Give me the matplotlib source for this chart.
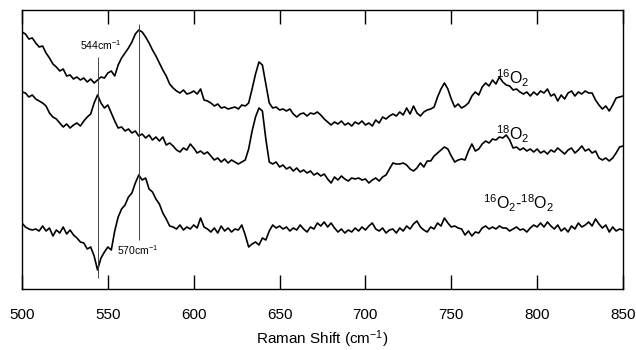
import numpy as np
import matplotlib
matplotlib.use("Agg")
import matplotlib.pyplot as plt

plt.rcParams['font.family'] = ['Liberation Sans', 'DejaVu Sans']
plt.rcParams['mathtext.fontset'] = 'custom'
plt.rcParams['mathtext.rm'] = 'Liberation Sans'
plt.rcParams['mathtext.it'] = 'Liberation Sans:italic'

# Raman shift grid (cm^-1), sampled every 2 cm^-1
raman_shift = np.arange(500, 851, 2)

# 16O2 spectrum (arbitrary units, offset as in figure)
o16 = [257, 255, 250, 251, 246, 242, 243, 236, 231, 225, 222, 218, 220, 213, 214, 210, 212, 209, 211, 207,
       210, 206, 209, 212, 211, 216, 218, 213, 224, 231, 236, 241, 247, 255, 259, 257, 252, 246, 239, 233,
       226, 219, 213, 205, 201, 198, 196, 199, 195, 196, 198, 195, 200, 189, 188, 186, 183, 185, 181, 182,
       180, 181, 182, 180, 184, 183, 186, 200, 215, 227, 224, 205, 186, 181, 182, 179, 180, 178, 180, 175,
       172, 175, 176, 173, 176, 175, 177, 174, 170, 167, 164, 167, 165, 168, 164, 166, 163, 167, 165, 168,
       164, 166, 163, 169, 166, 172, 170, 173, 175, 173, 177, 174, 181, 175, 183, 176, 173, 177, 179, 180,
       182, 192, 200, 206, 200, 190, 182, 185, 181, 183, 186, 193, 197, 194, 202, 206, 203, 209, 205, 212,
       207, 204, 203, 199, 200, 197, 195, 197, 193, 197, 194, 198, 196, 200, 193, 195, 188, 194, 190, 196,
       198, 193, 197, 195, 198, 196, 196, 189, 184, 180, 183, 178, 184, 191, 192, 193]

# 18O2 spectrum
o18 = [197, 196, 192, 194, 190, 188, 186, 183, 176, 172, 170, 166, 162, 165, 161, 164, 166, 163, 168, 172,
       175, 186, 194, 186, 181, 184, 176, 168, 161, 162, 158, 160, 156, 158, 153, 155, 151, 154, 149, 152,
       148, 152, 144, 146, 143, 139, 137, 141, 139, 145, 141, 136, 138, 135, 137, 133, 129, 131, 127, 130,
       126, 129, 127, 125, 127, 129, 140, 158, 172, 181, 178, 150, 127, 125, 127, 122, 124, 120, 122, 118,
       121, 117, 119, 116, 118, 114, 116, 113, 115, 110, 106, 112, 109, 113, 110, 108, 111, 110, 111, 109,
       110, 106, 109, 111, 108, 112, 114, 120, 126, 125, 125, 126, 124, 120, 118, 121, 126, 122, 128, 128,
       133, 136, 139, 142, 140, 133, 127, 129, 130, 129, 138, 145, 138, 140, 145, 148, 146, 150, 149, 152,
       151, 154, 149, 141, 142, 139, 141, 138, 140, 137, 140, 136, 138, 135, 139, 137, 141, 138, 135, 139,
       141, 136, 139, 143, 138, 140, 136, 138, 131, 129, 131, 128, 131, 136, 142, 143]

# Difference spectrum 16O2 - 18O2
diff = [66, 62, 60, 59, 60, 58, 63, 58, 61, 53, 59, 56, 62, 55, 59, 54, 51, 47, 46, 40,
        42, 33, 19, 31, 37, 42, 39, 58, 72, 80, 84, 92, 96, 106, 114, 109, 111, 100, 97, 90,
        85, 76, 70, 63, 62, 60, 64, 59, 62, 60, 64, 61, 71, 62, 60, 57, 61, 56, 63, 58,
        61, 57, 60, 59, 64, 54, 42, 45, 47, 44, 51, 49, 58, 64, 61, 63, 60, 62, 58, 61,
        59, 64, 60, 57, 62, 60, 66, 63, 67, 62, 66, 61, 57, 60, 56, 59, 57, 61, 58, 62,
        59, 63, 66, 60, 58, 61, 56, 59, 60, 56, 61, 58, 63, 60, 65, 68, 62, 59, 57, 62,
        60, 66, 63, 71, 66, 62, 63, 61, 60, 54, 58, 53, 57, 56, 61, 63, 60, 62, 60, 63,
        61, 61, 58, 60, 62, 59, 60, 57, 61, 64, 62, 66, 62, 67, 63, 60, 64, 58, 61, 57,
        63, 60, 66, 62, 64, 67, 63, 70, 65, 61, 64, 57, 62, 58, 60, 59]

x_ticks = [500, 550, 600, 650, 700, 750, 800, 850]
marker_shifts = [544, 568]
marker_labels = ["544cm$^{-1}$", "570cm$^{-1}$"]

fig = plt.figure(figsize=(6.36, 3.5), dpi=100)
ax = fig.add_axes([22/636, 1-289/350, (623-22)/636, (289-10)/350])

lw = 1.2
ax.plot(raman_shift, o16, color='black', lw=lw)
ax.plot(raman_shift, o18, color='black', lw=lw)
ax.plot(raman_shift, diff, color='black', lw=lw)

# vertical reference lines
ax.vlines(marker_shifts[0], 11, 232, color='#444444', lw=0.7)
ax.vlines(marker_shifts[1], 49, 265, color='#444444', lw=0.7)

ax.text(545.5, 244, marker_labels[0], ha='center', va='center', fontsize=7.5)
ax.text(567.5, 39, marker_labels[1], ha='center', va='center', fontsize=7.5)

ax.text(786, 211, r"$^{16}\mathrm{O}_2$", ha='center', va='center', fontsize=11.5)
ax.text(786, 155, r"$^{18}\mathrm{O}_2$", ha='center', va='center', fontsize=11.5)
ax.text(789, 86, r"$^{16}\mathrm{O}_2$-$^{18}\mathrm{O}_2$", ha='center', va='center', fontsize=11.5)

ax.set_xlim(500, 850)
ax.set_ylim(0, 279)
ax.set_xticks(x_ticks)
ax.set_yticks([])
ax.tick_params(axis='x', direction='in', top=True, bottom=True, length=10, width=1,
               pad=14, labelsize=11)
for s in ax.spines.values():
    s.set_linewidth(1.0)

ax.set_xlabel("Raman Shift (cm$^{-1}$)", fontsize=11, labelpad=4)

fig.savefig("out.png", dpi=100)
